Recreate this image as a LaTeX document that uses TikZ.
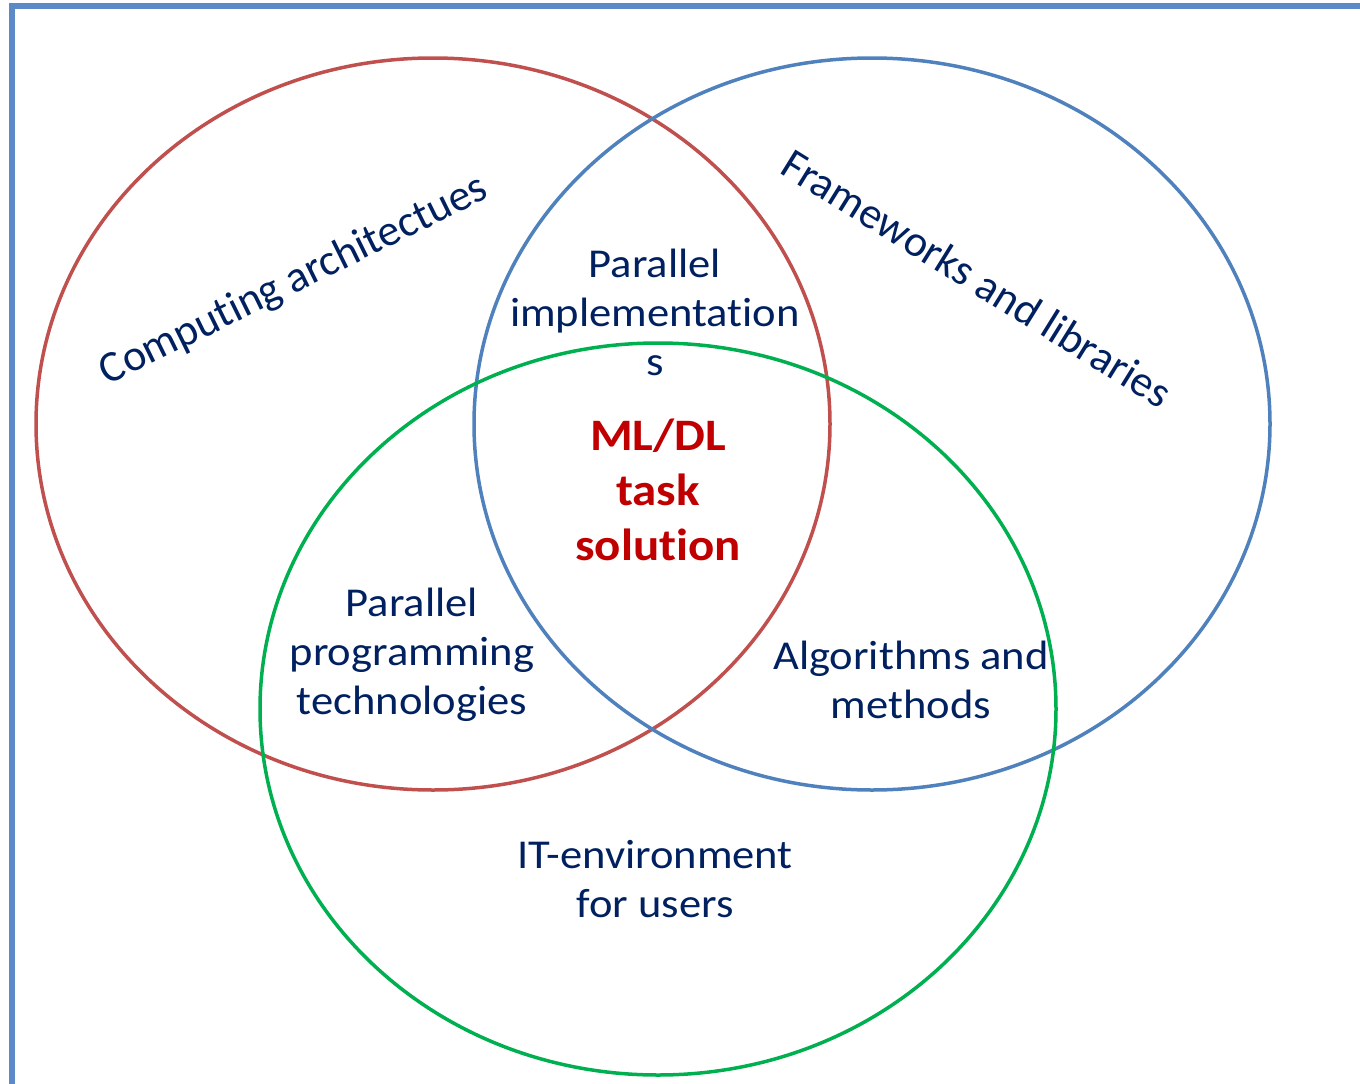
\documentclass[tikz,border=0pt]{standalone}
\usepackage{fontspec}
\setmainfont{Carlito}[Ligatures=NoCommon]
\definecolor{setred}{HTML}{C0504D}
\definecolor{setblue}{HTML}{4F81BD}
\definecolor{setgreen}{HTML}{00B050}
\definecolor{labelnavy}{HTML}{002060}
\definecolor{corered}{HTML}{C00000}
\definecolor{framecol}{HTML}{5B8AC6}
\begin{document}
\begin{tikzpicture}[x=1pt,y=-1pt,
  ring/.style={line width=3.5pt},
  lbl/.style={text=labelnavy,align=center,font=\fontsize{41}{49}\selectfont,
              xscale=1.087,transform shape,inner sep=0pt},
  core/.style={text=corered,align=center,font=\fontsize{45}{55}\selectfont\bfseries,
               xscale=1.087,transform shape,inner sep=0pt},
  arclbl/.style={text=labelnavy,font=\fontsize{44}{50}\selectfont,inner sep=0pt}]
\useasboundingbox (0,0) rectangle (1360,1084);
% page frame
\draw[framecol,line width=6pt] (12,1090) -- (12,6) -- (1366,6);
% the three sets
\draw[ring,setred]   (433,424) ellipse [x radius=397, y radius=366];
\draw[ring,setblue]  (872,424) ellipse [x radius=398, y radius=366];
\draw[ring,setgreen] (658,709) ellipse [x radius=398, y radius=366];
% set names
\node[arclbl,rotate=26.2]  (arch) at (294,281) {Computing architectues};
\node[arclbl,rotate=-31.8] (fw)   at (977,278) {Frameworks and libraries};
% intersections
\node[lbl]  (pimpl) at (655,312) {Parallel\\implementation\\s};
\node[core] (task)  at (658,490) {ML/DL\\task\\solution};
\node[lbl]  (ppt)   at (412,655) {Parallel\\programming\\technologies};
\node[lbl]  (alg)   at (911,680) {Algorithms and\\methods};
\node[lbl]  (itenv) at (655,879) {IT-environment\\for users};
\end{tikzpicture}
\end{document}
